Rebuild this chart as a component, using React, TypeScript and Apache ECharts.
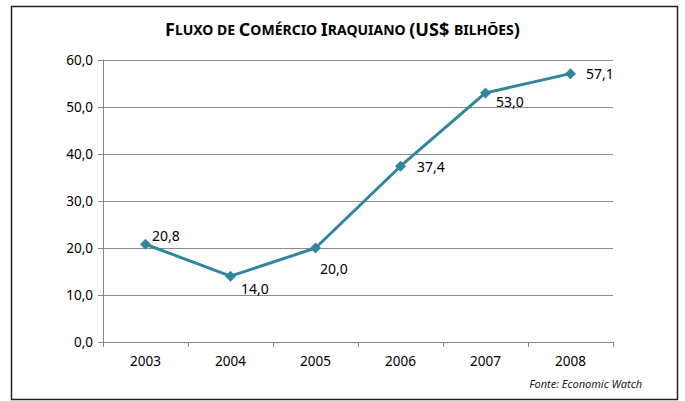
import React, { useEffect, useRef } from "react";
import * as echarts from "echarts";

const years = ["2003", "2004", "2005", "2006", "2007", "2008"];
const values = [20.8, 14.0, 20.0, 37.4, 53.0, 57.1];
const labelOffsets: [number, number][] = [
  [-4, -9],
  [0, 12],
  [-6, 20],
  [6, 0],
  [0, 9],
  [5, 0],
];

const fmt = (v: number) => v.toFixed(1).replace(".", ",");
const FONT = "'Noto Sans', 'Open Sans', sans-serif";

export default function App() {
  const ref = useRef<HTMLDivElement>(null);
  useEffect(() => {
    if (!ref.current) return;
    const chart = echarts.init(ref.current, null, { renderer: "svg" });
    chart.setOption({
      animation: false,
      backgroundColor: "#ffffff",
      title: {
        text:
          "{b|F}{s|LUXO DE }{b|C}{s|OMÉRCIO }{b|I}{s|RAQUIANO }{b|(US$ }{s|BILHÕES}{b|)}",
        left: "center",
        top: 15,
        textStyle: {
          rich: {
            b: { fontFamily: FONT, fontWeight: "bold", fontSize: 18, color: "#000" },
            s: { fontFamily: FONT, fontWeight: "bold", fontSize: 14, color: "#000" },
          },
        },
      },
      graphic: [
        {
          type: "rect",
          shape: { x: 11.5, y: 6.5, width: 666, height: 393 },
          style: { fill: "none", stroke: "#222", lineWidth: 1.5 },
          silent: true,
        },
        {
          type: "text",
          right: 43,
          top: 378,
          style: {
            text: "Fonte: Economic Watch",
            font: `italic 11px ${FONT}`,
            fill: "#222",
          },
        },
      ],
      grid: { left: 103, right: 72, top: 60, bottom: 59 },
      xAxis: {
        type: "category",
        data: years,
        boundaryGap: true,
        axisLine: { lineStyle: { color: "#868686", width: 1 } },
        axisTick: { show: true, length: 5, lineStyle: { color: "#868686" } },
        axisLabel: { color: "#000", fontFamily: FONT, fontSize: 13.5, margin: 12 },
      },
      yAxis: {
        type: "value",
        min: 0,
        max: 60,
        interval: 10,
        axisLine: { show: true, lineStyle: { color: "#868686", width: 1 } },
        axisTick: { show: true, length: 5, lineStyle: { color: "#868686" } },
        splitLine: { lineStyle: { color: "#8c8c8c", width: 1 } },
        axisLabel: {
          color: "#000",
          fontFamily: FONT,
          fontSize: 13.5,
          margin: 10,
          formatter: (v: number) => fmt(v),
        },
      },
      series: [
        {
          type: "line",
          data: values.map((v, i) => ({
            value: v,
            label: { offset: labelOffsets[i] },
          })),
          symbol: "diamond",
          symbolSize: 11,
          lineStyle: { color: "#31859C", width: 3 },
          itemStyle: { color: "#31859C" },
          label: {
            show: true,
            position: "right",
            color: "#000",
            fontFamily: FONT,
            fontSize: 14,
            formatter: (p: any) => fmt(p.value),
          },
        },
      ],
    });
    return () => chart.dispose();
  }, []);
  return (
    <div
      ref={ref}
      style={{ position: "fixed", left: 0, top: 0, width: 685, height: 401 }}
    />
  );
}
